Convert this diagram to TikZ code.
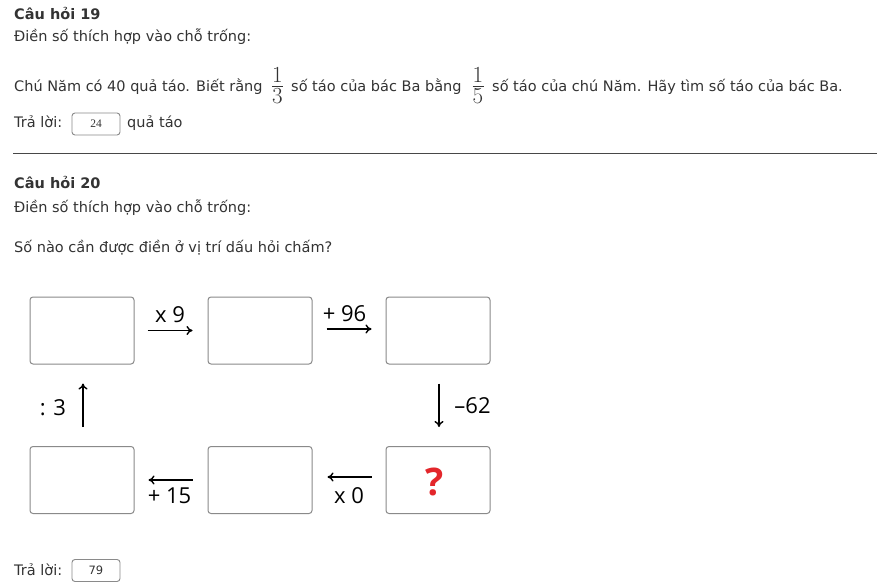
\documentclass[tikz,border=0pt]{standalone}
\usepackage{fontspec}
\setmainfont{DejaVu Sans}
\newfontfamily\diagfont{Open Sans}
\newfontfamily\serifans{Liberation Serif}
\newfontfamily\lmfont{Latin Modern Roman}
\usetikzlibrary{arrows.meta}
\definecolor{txt}{HTML}{333333}
\definecolor{boxgray}{HTML}{8A8A8A}
\definecolor{qred}{HTML}{E3262B}
\tikzset{
  body/.style={anchor=base west, inner sep=0pt, text=txt, font=\fontsize{14.5}{16}\selectfont},
  title/.style={body, font=\fontsize{14.5}{16}\selectfont\bfseries},
  fracdigit/.style={anchor=base, inner sep=0pt, text=txt, font=\lmfont\fontsize{23}{25}\selectfont},
  ansbox/.style={draw=boxgray, line width=0.9pt, rounded corners=3pt, minimum width=48pt, minimum height=22pt, inner sep=0pt},
  cell/.style={draw=boxgray, line width=1pt, rounded corners=3pt, minimum width=104pt, minimum height=67pt, inner sep=0pt},
  oplabel/.style={anchor=base, inner sep=0pt, text=black, font=\diagfont\fontsize{22}{24}\selectfont},
  oparrow/.style={draw=black, line width=1.4pt, -{To[length=6pt,width=9pt]}},
}
\begin{document}
\begin{tikzpicture}[x=1pt,y=-1pt]
\useasboundingbox[fill=white] (0,0) rectangle (881,588);
% ---------- Question 19
\node[title] (q19) at (14,20) {Câu hỏi 19};
\node[body] (q19a) at (14,42) {Điền số thích hợp vào chỗ trống:};
\node[body] (q19b) at (14,92) {Chú Năm có 40 quả táo. Biết rằng};
\node[fracdigit] (n1) at (277.5,82.7) {1};
\draw[txt, line width=0.8pt] (272,86) -- (283,86);
\node[fracdigit] (d1) at (277.5,104) {3};
\node[body] (q19c) at (291,92) {số táo của bác Ba bằng};
\node[fracdigit] (n2) at (478,82.7) {1};
\draw[txt, line width=0.8pt] (472.5,86) -- (483.5,86);
\node[fracdigit] (d2) at (478,104) {5};
\node[body] (q19d) at (492,92) {số táo của chú Năm. Hãy tìm số táo của bác Ba.};
\node[body] (q19e) at (14,127.7) {Trả lời:};
\node[ansbox] (a19) at (96,124) {\serifans\fontsize{11.5}{13}\selectfont\color{txt}24};
\node[body] (q19f) at (127,127.7) {quả táo};
% rule
\draw[color=txt!90, line width=1pt] (13,153.3) -- (876.5,153.3);
% ---------- Question 20
\node[title] (q20) at (14,189) {Câu hỏi 20};
\node[body] (q20a) at (14,212.7) {Điền số thích hợp vào chỗ trống:};
\node[body] (q20b) at (14,252.7) {Số nào cần được điền ở vị trí dấu hỏi chấm?};
% diagram
\node[cell] (c1) at (82,330.5) {};
\node[cell] (c2) at (260,330.5) {};
\node[cell] (c3) at (438,330.5) {};
\node[cell] (c4) at (82,480) {};
\node[cell] (c5) at (260,480) {};
\node[cell] (c6) at (438,480) {};
\node[anchor=base, inner sep=0pt, text=qred, font=\diagfont\bfseries\fontsize{38}{40}\selectfont] (qm) at (435,495) {?};
\draw[oparrow, shorten <=13pt, shorten >=15pt] (c1.east) -- (c2.west);
\draw[oparrow, shorten <=14pt, shorten >=14pt] ([yshift=1.5pt]c2.east) -- ([yshift=1.5pt]c3.west);
\draw[oparrow, shorten <=19pt, shorten >=19pt] ([xshift=1pt]c3.south) -- ([xshift=1pt]c6.north);
\draw[oparrow, shorten <=14pt, shorten >=15pt] ([yshift=3pt]c6.west) -- ([yshift=3pt]c5.east);
\draw[oparrow, shorten <=15pt, shorten >=14pt] (c5.west) -- (c4.east);
\draw[oparrow, shorten <=19pt, shorten >=19pt] ([xshift=1pt]c4.north) -- ([xshift=1pt]c1.south);
\node[oplabel] (l1) at (170,322) {x 9};
\node[oplabel] (l2) at (344.5,321) {+ 96};
\node[oplabel] (l3) at (472.5,413) {–62};
\node[oplabel] (l4) at (349,503) {x 0};
\node[oplabel] (l5) at (169.5,503) {+ 15};
\node[oplabel] (l6) at (53,415) {: 3};
% answer
\node[body] (q20c) at (14,575) {Trả lời:};
\node[ansbox] (a20) at (96,570.5) {\fontsize{11.5}{13}\selectfont\color{txt}79};
\end{tikzpicture}
\end{document}
